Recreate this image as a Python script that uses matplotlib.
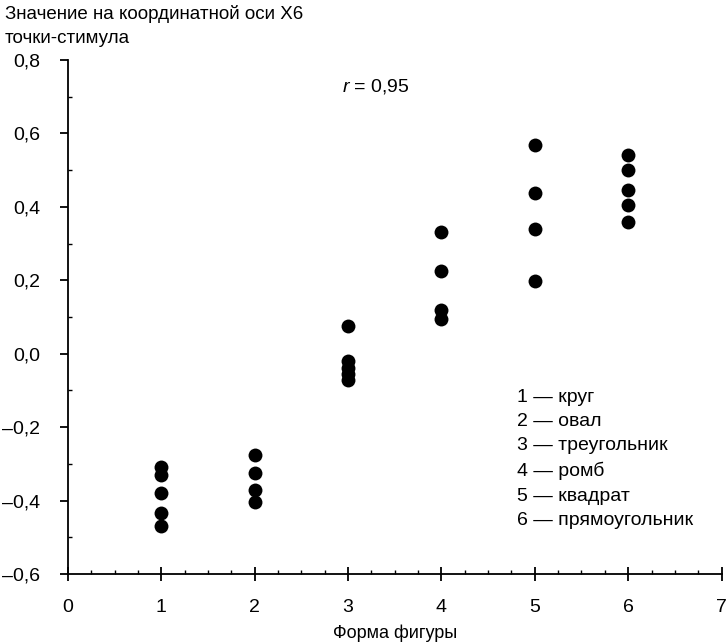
import matplotlib.pyplot as plt
from matplotlib.ticker import MultipleLocator, FuncFormatter

plt.rcParams['font.family'] = ['Liberation Sans', 'DejaVu Sans']
plt.rcParams['mathtext.fontset'] = 'custom'
plt.rcParams['mathtext.it'] = 'Liberation Sans:italic'
plt.rcParams['mathtext.rm'] = 'Liberation Sans'

# shape code -> coordinate values
shape_1 = [-0.31, -0.33, -0.38, -0.435, -0.47]
shape_2 = [-0.275, -0.325, -0.37, -0.405]
shape_3 = [0.076, -0.02, -0.038, -0.055, -0.072]
shape_4 = [0.332, 0.224, 0.118, 0.095]
shape_5 = [0.569, 0.439, 0.339, 0.197]
shape_6 = [0.541, 0.501, 0.446, 0.405, 0.36]
shapes = [shape_1, shape_2, shape_3, shape_4, shape_5, shape_6]
shape_names = ['круг', 'овал', 'треугольник', 'ромб', 'квадрат', 'прямоугольник']
r_value = '0,95'

fs = 13

fig = plt.figure(figsize=(7.27, 6.42), dpi=100)
ax = fig.add_axes([0.0935, 0.106, 0.899, 0.8005])

for i, vals in enumerate(shapes):
    ax.plot([i + 1] * len(vals), vals, 'o', color='black', markersize=10,
            markeredgewidth=0, clip_on=False)

ax.set_xlim(0, 7)
ax.set_ylim(-0.6, 0.8)
ax.spines['top'].set_visible(False)
ax.spines['right'].set_visible(False)
for s in ['left', 'bottom']:
    ax.spines[s].set_linewidth(1.3)

ax.xaxis.set_major_locator(MultipleLocator(1))
ax.xaxis.set_minor_locator(MultipleLocator(0.25))
ax.yaxis.set_major_locator(MultipleLocator(0.2))
ax.yaxis.set_minor_locator(MultipleLocator(0.1))

def fmt_y(v, pos):
    s = '%.1f' % v
    if s == '-0.0':
        s = '0.0'
    return s.replace('.', ',').replace('-', '–')

ax.yaxis.set_major_formatter(FuncFormatter(fmt_y))
ax.xaxis.set_major_formatter(FuncFormatter(lambda v, p: '%d' % v))

ax.tick_params(axis='x', which='major', direction='inout', length=10, width=1.3,
               labelsize=14, pad=13)
ax.tick_params(axis='x', which='minor', direction='in', length=3, width=1)
ax.tick_params(axis='y', which='major', direction='out', length=6, width=1.3,
               labelsize=14, pad=14)
ax.tick_params(axis='y', which='minor', direction='in', length=3, width=1)

ax.set_xlabel('Форма фигуры', fontsize=fs, labelpad=6)

fig.text(0.007, 0.992, 'Значение на координатной оси X6\nточки-стимула',
         fontsize=13.5, ha='left', va='top', linespacing=1.55)

ax.text(2.93, 0.727, r'$\it{r}$ = ' + r_value, fontsize=14, ha='left', va='center')

legend_txt = '\n'.join('%d — %s' % (i + 1, n) for i, n in enumerate(shape_names))
ax.text(4.81, -0.096, legend_txt, fontsize=14, ha='left', va='top',
        linespacing=1.55)

fig.savefig('out.png', dpi=100)
